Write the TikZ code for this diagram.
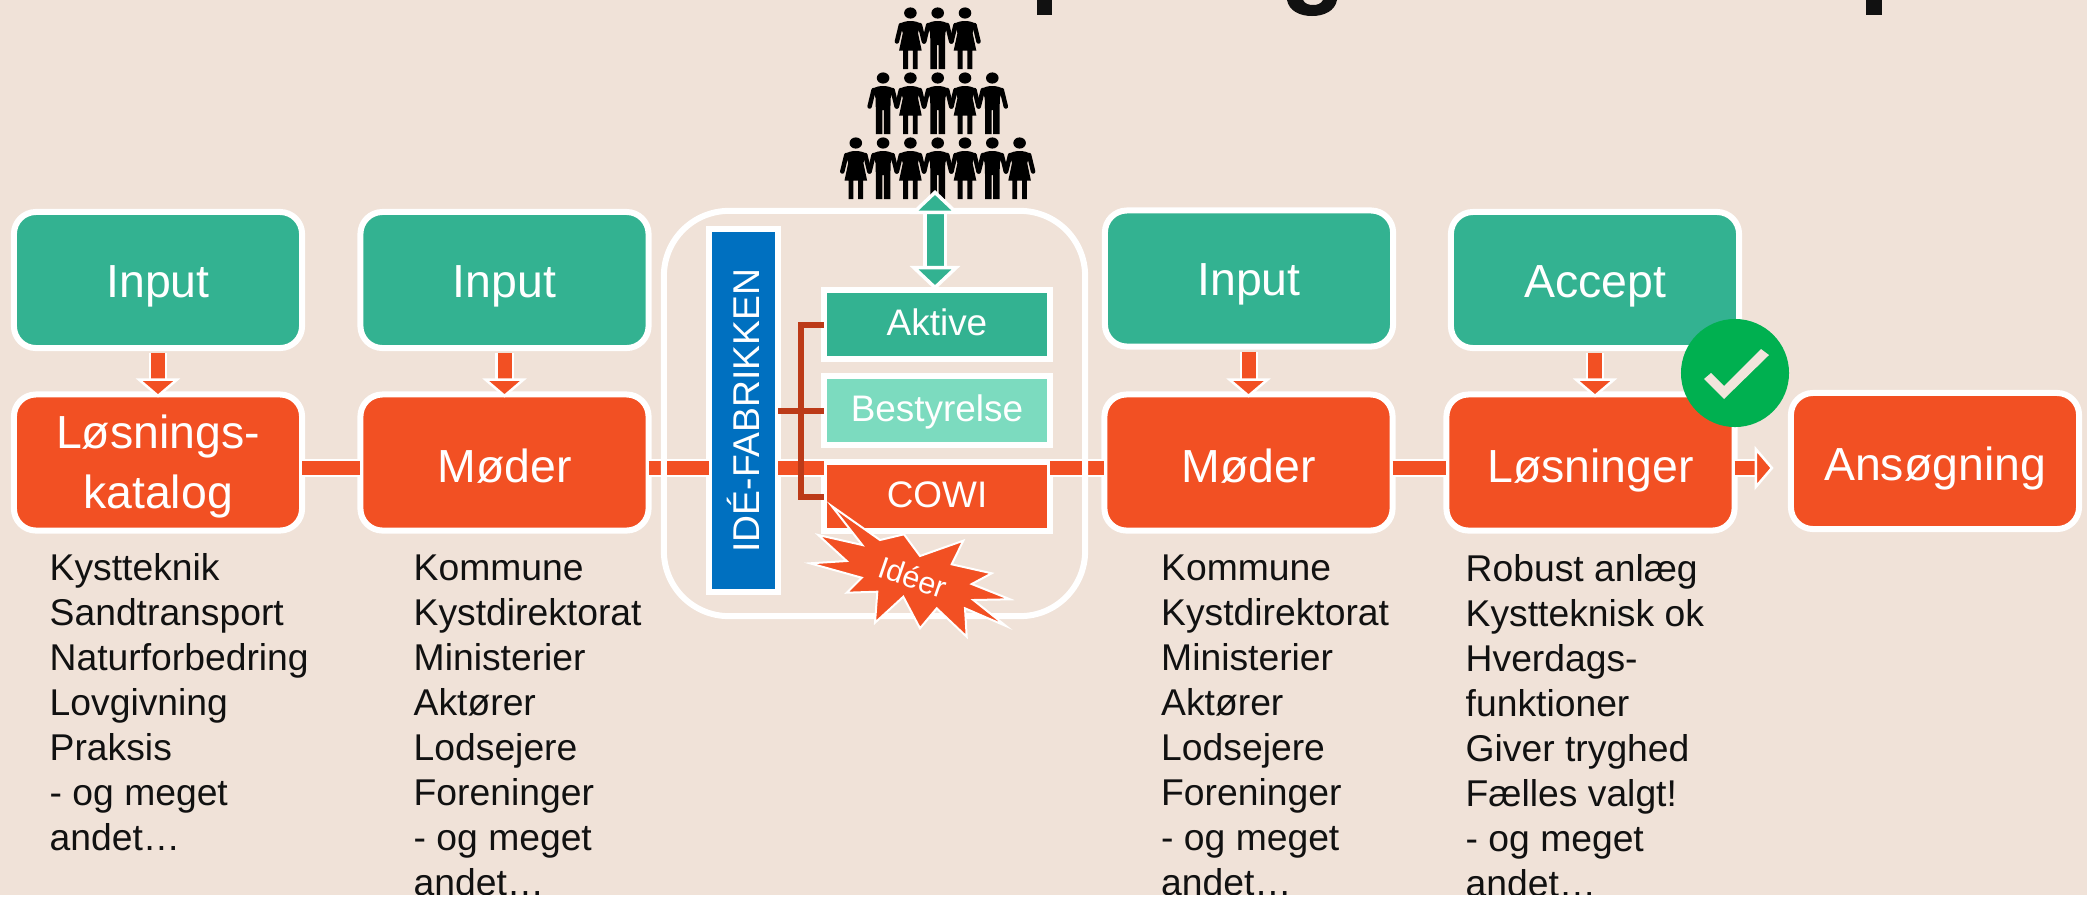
\documentclass[tikz,border=0pt]{standalone}
\usepackage{fontspec}
\setmainfont{Liberation Sans}
\usetikzlibrary{arrows.meta}
\definecolor{paper}{HTML}{F0E2D8}
\definecolor{teal}{HTML}{33B291}
\definecolor{paleteal}{HTML}{7CDBBF}
\definecolor{flame}{HTML}{F25023}
\definecolor{rust}{HTML}{BC3A18}
\definecolor{idea}{HTML}{0070C0}
\definecolor{okgreen}{HTML}{00B050}
\definecolor{ink}{HTML}{111111}
\tikzset{
	box/.style={rectangle, draw=white, line width=0.6mm, rounded corners=2.2mm, minimum width=28.8mm, minimum height=13.6mm, inner sep=0pt, outer sep=0pt, text=white, font=\fontsize{13.2}{16}\selectfont, text height=3.4mm, text depth=0pt},
	inbox/.style={box, fill=teal},
	outbox/.style={box, fill=flame, text height=3.9mm},
	panel/.style={rectangle, draw=white, line width=0.6mm, minimum width=22.6mm, minimum height=6.9mm, inner sep=0pt, outer sep=0pt, text=white, font=\fontsize{10.5}{12}\selectfont, text height=2.2mm, text depth=0pt},
	notes/.style={anchor=north west, align=left, inner sep=0pt, text=ink, font=\fontsize{10.6}{12.8}\selectfont},
	bar/.style={draw=white, line width=0.2mm, double=flame, double distance=1.4mm},
	flow/.style={bar, shorten >=-0.3mm, -{Triangle[length=1.9mm, width=4.4mm, line width=0.25mm, color=white, fill=flame]}},
	twoway/.style={draw=white, line width=0.35mm, double=teal, double distance=1.7mm, {Triangle[length=2.4mm, width=5mm, line width=0.35mm, color=white, fill=teal]}-{Triangle[length=2.4mm, width=5mm, line width=0.35mm, color=white, fill=teal]}},
	bracket/.style={draw=rust, line width=0.6mm},
	man/.pic={
		\fill (0,0) ellipse (6.3 and 5.6);
		\fill (-10.5,11) .. controls (-6,7) and (6,7) .. (10.5,11) -- (7.6,20) -- (7.3,31) -- (7.3,56) -- (0.8,56) -- (0.8,32) -- (-0.8,32) -- (-0.8,56) -- (-7.3,56) -- (-7.3,31) -- (-7.6,20) -- cycle;
		\draw[line width=0.45mm, line cap=round] (-9.5,12) -- (-13.5,28.5) (9.5,12) -- (13.5,28.5);
	},
	woman/.pic={
		\fill (0,0) ellipse (6.3 and 5.6);
		\fill (-10.5,11) .. controls (-6,7) and (6,7) .. (10.5,11) -- (7.6,20) -- (11.3,37.5) -- (7.3,37.5) -- (7.3,56) -- (2.4,56) -- (2.4,37.5) -- (-2.4,37.5) -- (-2.4,56) -- (-7.3,56) -- (-7.3,37.5) -- (-11.3,37.5) -- (-7.6,20) -- cycle;
		\draw[line width=0.45mm, line cap=round] (-9.5,12) -- (-13.5,28.5) (9.5,12) -- (13.5,28.5);
	}
}

\begin{document}
\begin{tikzpicture}[x=0.01cm, y=-0.01cm]
	\fill[paper] (0,0) rectangle (2087,899);
	\useasboundingbox (0,0) rectangle (2087,899);
	% Title, cut off by the top edge
	\fill[ink] (1037,0) rectangle (1052,15);
	\fill[ink] (1866,0) rectangle (1882,15);
	\fill[ink] (1287,0) .. controls (1289,11) and (1300,16) .. (1312,16) .. controls (1324,16) and (1335,11) .. (1337,0) -- (1323,0) .. controls (1321,4) and (1317,5) .. (1313,5) .. controls (1309,5) and (1305,4) .. (1303,0) -- cycle;
	% Crowd
	\foreach \i in {-1,...,1} {
		\ifodd\i \pic[black] at ({937.7+27.3*\i},13) {woman}; \else \pic[black] at ({937.7+27.3*\i},13) {man}; \fi
	}
	\foreach \i in {-2,...,2} {
		\ifodd\i \pic[black] at ({937.7+27.3*\i},78) {woman}; \else \pic[black] at ({937.7+27.3*\i},78) {man}; \fi
	}
	\foreach \i in {-3,...,3} {
		\ifodd\i \pic[black] at ({937.7+27.3*\i},143) {woman}; \else \pic[black] at ({937.7+27.3*\i},143) {man}; \fi
	}
	% Nodes
	\node[inbox] (input1) at (158,280) {Input};
	\node[inbox] (input2) at (504.5,280) {Input};
	\node[inbox] (input3) at (1249,278.5) {Input};
	\node[inbox] (accept) at (1595,280) {Accept};
	\node[outbox, align=center, text height=9.1mm] (katalog) at (158,462.5) {Løsnings-\\[0.35mm]katalog};
	\node[outbox] (moeder1) at (504.5,462.5) {Møder};
	\node[outbox] (moeder2) at (1248.5,462.5) {Møder};
	\node[outbox] (loesninger) at (1590.5,462.5) {Løsninger};
	\node[outbox] (ansoegning) at (1935,461) {Ansøgning};
	\node[rectangle, fill=idea, draw=white, line width=0.6mm, minimum width=6.9mm, minimum height=36.3mm, inner sep=0pt, outer sep=0pt, text=white, font=\fontsize{10.6}{12}\selectfont] (fabrik) at (743.5,410.5) {\rotatebox{90}{IDÉ-FABRIKKEN}};
	\node[panel, fill=teal] (aktive) at (937,324.5) {Aktive};
	\node[panel, fill=paleteal] (bestyrelse) at (937,410.5) {Bestyrelse};
	\node[panel, fill=flame] (cowi) at (937,496.5) {COWI};
	\coordinate (axis) at (0,468);
	\coordinate (crowd) at (935,190);
	% Connectors
	\draw[bar] (katalog.east |- axis) -- (moeder1.west |- axis);
	\draw[bar] (moeder1.east |- axis) -- (fabrik.west |- axis);
	\draw[bar] (fabrik.east |- axis) -- (cowi.west |- axis);
	\draw[bar] (cowi.east |- axis) -- (moeder2.west |- axis);
	\draw[bar] (moeder2.east |- axis) -- (loesninger.west |- axis);
	\draw[flow] (loesninger.east |- axis) -- ++(36,0) coordinate (flowend);
	\draw[flow, shorten <=0.5mm] (input1.south) -- (katalog.north);
	\draw[flow, shorten <=0.5mm] (input2.south) -- (moeder1.north);
	\draw[flow, shorten <=0.5mm] (input3.south -| moeder2.north) -- (moeder2.north);
	\draw[flow, shorten <=0.5mm] (accept.south) -- (accept.south |- loesninger.north);
	% Frame round the idea factory
	\node[rectangle, draw=white, line width=0.6mm, rounded corners=6.5mm, minimum width=42.1mm, minimum height=40.5mm, inner sep=0pt, outer sep=0pt] (frame) at (874.5,413.5) {};
	\draw[twoway] (crowd) -- (crowd |- aktive.north);
	\draw[bracket] (aktive.west) -| (801,496.5) -- (cowi.west);
	\draw[bracket] (fabrik.east |- bestyrelse) -- (bestyrelse.west);
	% Burst
	\fill[flame, draw=white, line width=0.2mm, line join=miter, miter limit=20] (831.7,506) -- (880,540) -- (904,534.3) -- (920,556) -- (963.3,540.7) -- (951.7,564.3) -- (991.7,573.3) -- (971.7,584) -- (1010,599.3) -- (973.3,600) -- (1006,626) -- (965,608.3) -- (966.7,636.7) -- (936.7,608.3) -- (920,628.3) -- (903.3,596.7) -- (875,622.7) -- (877.3,591.7) -- (846.7,592.7) -- (861.7,577.7) -- (810,563.3) -- (846.7,561) -- (818.3,535) -- (862.3,545) -- cycle;
	\node[rotate=-19, inner sep=0pt, text=white, font=\fontsize{8.7}{10}\selectfont] (ideer) at (913,577) {Idéer};
	% Check mark
	\node[circle, fill=okgreen, minimum size=10.8mm, inner sep=0pt] (okmark) at (1735,373) {};
	\fill[paper!90!white] (1704,379) -- (1724,399) -- (1769,355) -- (1761,349) -- (1724,386) -- (1711,373) -- cycle;
	% Lists
	\node[notes] (list1) at (49,553) {Kystteknik\\Sandtransport\\Naturforbedring\\Lovgivning\\Praksis\\- og meget\\andet…};
	\node[notes] (list2) at (413,554) {Kommune\\Kystdirektorat\\Ministerier\\Aktører\\Lodsejere\\Foreninger\\- og meget\\andet…};
	\node[notes] (list3) at (1160.5,554) {Kommune\\Kystdirektorat\\Ministerier\\Aktører\\Lodsejere\\Foreninger\\- og meget\\andet…};
	\node[notes] (list4) at (1465,554) {Robust anlæg\\Kystteknisk ok\\Hverdags-\\funktioner\\Giver tryghed\\Fælles valgt!\\- og meget\\andet…};
	% Bottom edge
	\fill[white] (0,895) rectangle (2087,899);
\end{tikzpicture}
\end{document}
